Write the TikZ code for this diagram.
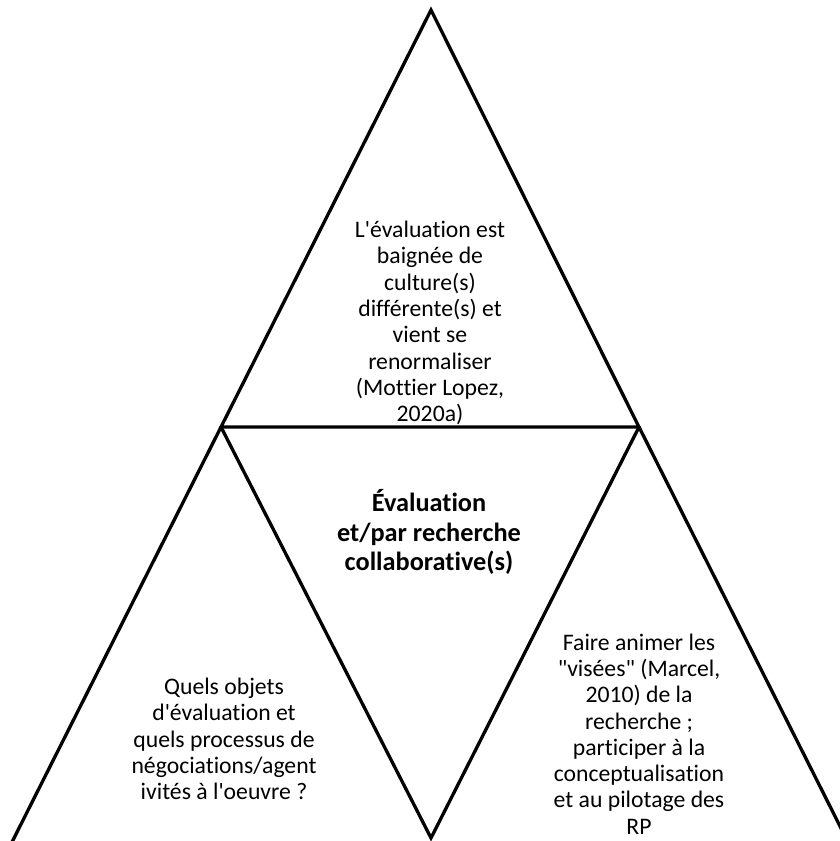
\documentclass[tikz,border=0pt]{standalone}
\usepackage{fontspec}
\setmainfont{Carlito}[Ligatures=CommonOff]
\usepackage{tikz}
\usetikzlibrary{positioning}

\begin{document}
\begin{tikzpicture}[x=1pt,y=1pt]
          \tikzstyle{every node}+=[inner sep=0pt]
          \tikzstyle{side}=[black, line width=3.3pt, line join=miter]
          \tikzstyle{txt}=[align=center, font=\fontsize{23.7}{26.3}\selectfont]
          \tikzstyle{bigtxt}=[align=center, font=\fontsize{26.3}{29.5}\selectfont\bfseries]
          \useasboundingbox (0,0) rectangle (840,-841);
          \clip (0,0) rectangle (840,-841);
          \coordinate (top) at (431,-10);
          \coordinate (bl) at (221,-427);
          \coordinate (br) at (639,-427);
          \coordinate (low) at (431,-838);
          \coordinate (farl) at (8,-850);
          \coordinate (farr) at (852,-850);
          \draw [side] (top) -- (bl) -- (br) -- cycle;
          \draw [side] (bl) -- (low) -- (br);
          \draw [side] (bl) -- (farl);
          \draw [side] (br) -- (farr);
          \node [txt] (culture) at (430,-323) {L\textquotesingle évaluation est\\baignée de\\culture(s)\\différente(s) et\\vient se\\renormaliser\\(Mottier Lopez,\\2020a)};
          \node [bigtxt] (centre) at (429,-532) {Évaluation\\et/par recherche\\collaborative(s)};
          \node [txt] (objets) at (224,-739) {Quels objets\\d\textquotesingle évaluation et\\quels processus de\\négociations/agent\\ivités à l\textquotesingle oeuvre ?};
          \node [txt] (visees) at (639,-734) {Faire animer les\\\textquotedbl visées\textquotedbl{} (Marcel,\\2010) de la\\recherche ;\\participer à la\\conceptualisation\\et au pilotage des\\RP};
        \end{tikzpicture}
\end{document}
